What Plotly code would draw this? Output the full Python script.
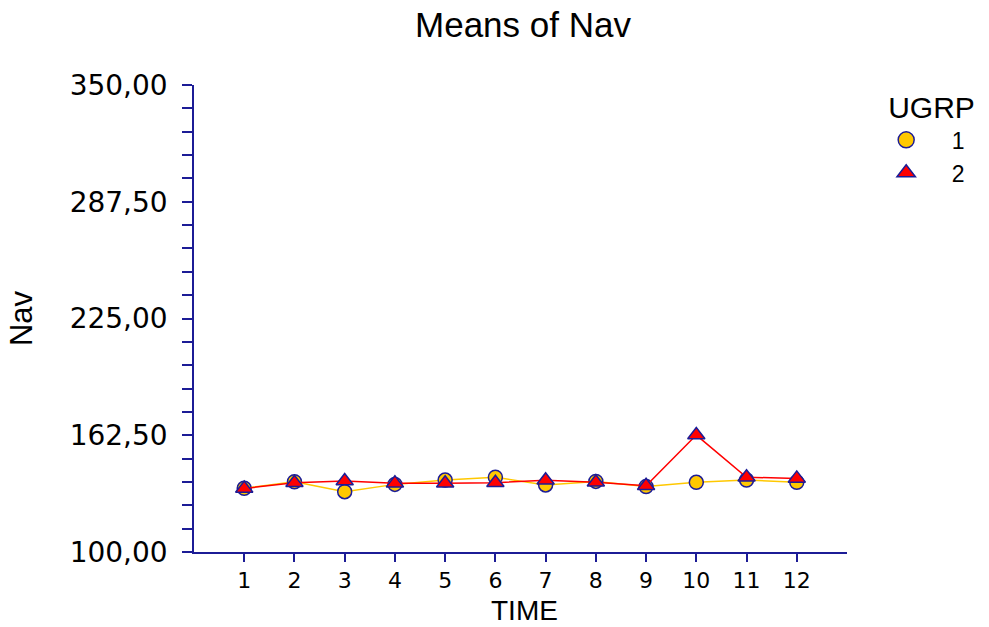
import plotly.graph_objects as go

# Mean Nav per time point for each UGRP group
time = list(range(1, 13))
ugrp1_nav = [134.1, 137.6, 132.3, 136.2, 138.5, 140.0, 135.9, 137.8, 135.0, 137.3, 138.5, 137.3]
ugrp2_nav = [134.0, 137.1, 138.0, 136.8, 136.8, 137.1, 138.4, 137.3, 135.5, 162.6, 140.0, 139.4]
groups = ["1", "2"]

y_tick_vals = [100, 162.5, 225, 287.5, 350]
y_tick_text = ["100,00", "162,50", "225,00", "287,50", "350,00"]

NAVY = "#1c1c96"
GOLD = "#ffc800"
RED = "#ff0000"
FONT = "Liberation Sans, Arial, sans-serif"
TICK_FONT = "DejaVu Sans, Liberation Sans, sans-serif"

circle = dict(symbol="circle", size=14, color=GOLD, line=dict(color=NAVY, width=1.5))
triangle = dict(symbol="triangle-up", size=15, color=RED, line=dict(color=NAVY, width=1.5))

fig = go.Figure()
fig.add_trace(go.Scatter(
    x=time, y=ugrp1_nav, name=groups[0], mode="lines+markers",
    line=dict(color=GOLD, width=1.5), marker=circle, showlegend=False,
))
fig.add_trace(go.Scatter(
    x=time, y=ugrp2_nav, name=groups[1], mode="lines+markers",
    line=dict(color=RED, width=1.5), marker=triangle, showlegend=False,
))
# legend keys show the marker symbols only
pad = "\u00a0" * 4
for g, m in zip(groups, [circle, triangle]):
    key = dict(m, size=18)
    fig.add_trace(go.Scatter(x=[None], y=[None], mode="markers", name=pad + g,
                             marker=key, showlegend=True))

fig.update_layout(
    width=989, height=627,
    margin=dict(l=194, r=142, t=85, b=75),
    paper_bgcolor="white", plot_bgcolor="white",
    font=dict(family=FONT, color="black", size=26),
    title=dict(text="Means of Nav", x=523 / 989, xanchor="center",
               y=1 - 25 / 627, yanchor="middle",
               font=dict(size=35, family=FONT, color="black")),
    legend=dict(
        title=dict(text="UGRP", font=dict(size=30)),
        x=1.06, y=1.012, xanchor="left", yanchor="top",
        font=dict(size=23), bgcolor="rgba(0,0,0,0)",
    ),
    annotations=[dict(
        text="TIME", xref="paper", yref="paper", x=(524 - 194) / 653, y=-(627 - 552) / 467,
        xanchor="center", yanchor="bottom", showarrow=False, borderpad=0,
        font=dict(size=28, family=FONT, color="black"),
    )],
)

fig.update_xaxes(
    range=[0, 13], tickvals=time, ticktext=[str(t) for t in time],
    showline=True, linecolor=NAVY, linewidth=1.5,
    ticks="outside", tickcolor=NAVY, ticklen=8, tickwidth=1.5,
    ticklabelstandoff=0,
    showgrid=False, zeroline=False, automargin=False,
    tickfont=dict(size=22, family=TICK_FONT),
)
fig.update_yaxes(
    range=[100, 350], tickvals=y_tick_vals, ticktext=y_tick_text,
    showline=True, linecolor=NAVY, linewidth=1.5,
    ticks="outside", tickcolor=NAVY, ticklen=10, tickwidth=1.5,
    minor=dict(dtick=12.5, tick0=100, ticks="outside", ticklen=10,
               tickcolor=NAVY, tickwidth=1.5, showgrid=False),
    ticklabelstandoff=9,
    showgrid=False, zeroline=False, automargin=False,
    tickfont=dict(size=28, family=TICK_FONT),
    title=dict(text="Nav", font=dict(size=31), standoff=28),
)

fig.write_html("out.html")
